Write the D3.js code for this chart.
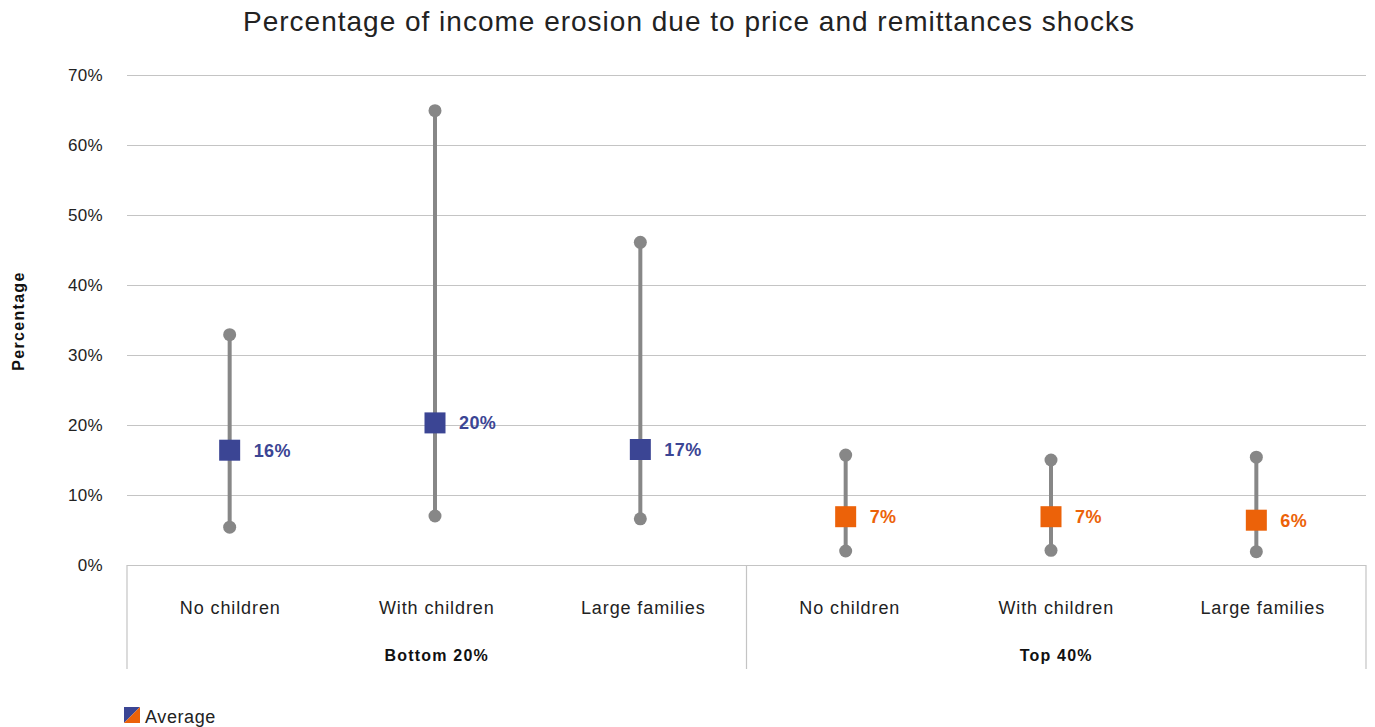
<!DOCTYPE html>
<html><head><meta charset="utf-8">
<script src="https://cdn.jsdelivr.net/npm/d3@7/dist/d3.min.js"></script>
<style>body{margin:0;background:#fff;} text{font-family:"Liberation Sans",Arial,sans-serif;}</style>
</head><body>
<svg id="c" width="1375" height="727"></svg>
<script>
const categories = ["No children","With children","Large families","No children","With children","Large families"];
const groups = ["Bottom 20%","Bottom 20%","Bottom 20%","Top 40%","Top 40%","Top 40%"];
const groupNames = ["Bottom 20%","Top 40%"];
const maxValues = [32.9, 64.9, 46.1, 15.7, 15.0, 15.4];
const minValues = [5.4, 7.0, 6.6, 2.0, 2.1, 1.9];
const avgValues = [16.4, 20.3, 16.5, 6.9, 6.9, 6.4];
const avgLabels = ["16%","20%","17%","7%","7%","6%"];
const yTicks = [0,10,20,30,40,50,60,70];
const groupColors = {"Bottom 20%":"#3b4594","Top 40%":"#ec6209"};

const FONT = "Liberation Sans, Arial, sans-serif";
const svg = d3.select("#c");
const L=127, R=1366, T=75, B=565;
const y = d3.scaleLinear().domain([0,70]).range([B,T]);
const idx = categories.map((d,i)=>i);
const x = d3.scaleBand().domain(idx).range([L,R]).padding(0);
const xm = d3.scaleBand().domain(idx).range([L,R-7]).padding(0);
const gx = d3.scaleBand().domain(groupNames).range([L,R]).padding(0);

svg.append("text").attr("x",689).attr("y",31).attr("text-anchor","middle")
  .attr("font-size",28).attr("letter-spacing",1).attr("fill","#222")
  .text("Percentage of income erosion due to price and remittances shocks");

// grid + y axis
const yAxis = d3.axisLeft(y).tickValues(yTicks).tickFormat(d=>d+"%").tickSize(-(R-L)).tickPadding(24);
const ga = svg.append("g").attr("transform",`translate(${L},0)`).call(yAxis);
ga.select(".domain").remove();
ga.selectAll(".tick line").attr("stroke","#c4c4c4").attr("stroke-width",1.2);
ga.selectAll(".tick text").attr("font-size",17).attr("letter-spacing",0.3).attr("fill","#222").attr("font-family",FONT);

svg.append("text").attr("transform","translate(24,321) rotate(-90)").attr("text-anchor","middle")
  .attr("font-size",16).attr("letter-spacing",1.3).attr("font-weight","bold").attr("fill","#111").text("Percentage");

// category box lines
const boundaries = [L, gx("Top 40%"), R];
svg.selectAll(".bnd").data(boundaries).enter().append("line")
  .attr("x1",d=>d).attr("x2",d=>d).attr("y1",B).attr("y2",669)
  .attr("stroke","#c4c4c4").attr("stroke-width",1.2);

svg.selectAll(".cat").data(categories).enter().append("text")
  .attr("x",(d,i)=>x(i)+x.bandwidth()/2).attr("y",614).attr("text-anchor","middle")
  .attr("font-size",18).attr("letter-spacing",0.9).attr("fill","#222").text(d=>d);
svg.selectAll(".grp").data(groupNames).enter().append("text")
  .attr("x",d=>gx(d)+gx.bandwidth()/2).attr("y",661).attr("text-anchor","middle")
  .attr("font-size",16).attr("letter-spacing",1.2).attr("font-weight","bold").attr("fill","#111").text(d=>d);

// range lines
const cx = i => xm(i)+xm.bandwidth()/2;
svg.selectAll(".rng").data(idx).enter().append("line")
  .attr("x1",cx).attr("x2",cx).attr("y1",i=>y(maxValues[i])).attr("y2",i=>y(minValues[i]))
  .attr("stroke","#878787").attr("stroke-width",4);
svg.selectAll(".mx").data(idx).enter().append("circle")
  .attr("cx",cx).attr("cy",i=>y(maxValues[i])).attr("r",6.5).attr("fill","#878787");
svg.selectAll(".mn").data(idx).enter().append("circle")
  .attr("cx",cx).attr("cy",i=>y(minValues[i])).attr("r",6.5).attr("fill","#878787");
const S=21;
svg.selectAll(".avg").data(idx).enter().append("rect")
  .attr("x",i=>cx(i)-S/2).attr("y",i=>y(avgValues[i])-S/2).attr("width",S).attr("height",S)
  .attr("fill",i=>groupColors[groups[i]]);
svg.selectAll(".lbl").data(idx).enter().append("text")
  .attr("x",i=>cx(i)+24).attr("y",i=>y(avgValues[i])+6.5).attr("font-size",18).attr("letter-spacing",0.4).attr("font-weight","bold")
  .attr("fill",i=>groupColors[groups[i]]).text(i=>avgLabels[i]);

// legend
const lg = svg.append("g").attr("transform","translate(124,707)");
lg.append("path").attr("d","M0,0H16L0,16Z").attr("fill",groupColors["Bottom 20%"]);
lg.append("path").attr("d","M16,0V16H0Z").attr("fill",groupColors["Top 40%"]);
lg.append("text").attr("x",21).attr("y",16).attr("font-size",18).attr("letter-spacing",0.6).attr("fill","#222").text("Average");
</script>
</body></html>
